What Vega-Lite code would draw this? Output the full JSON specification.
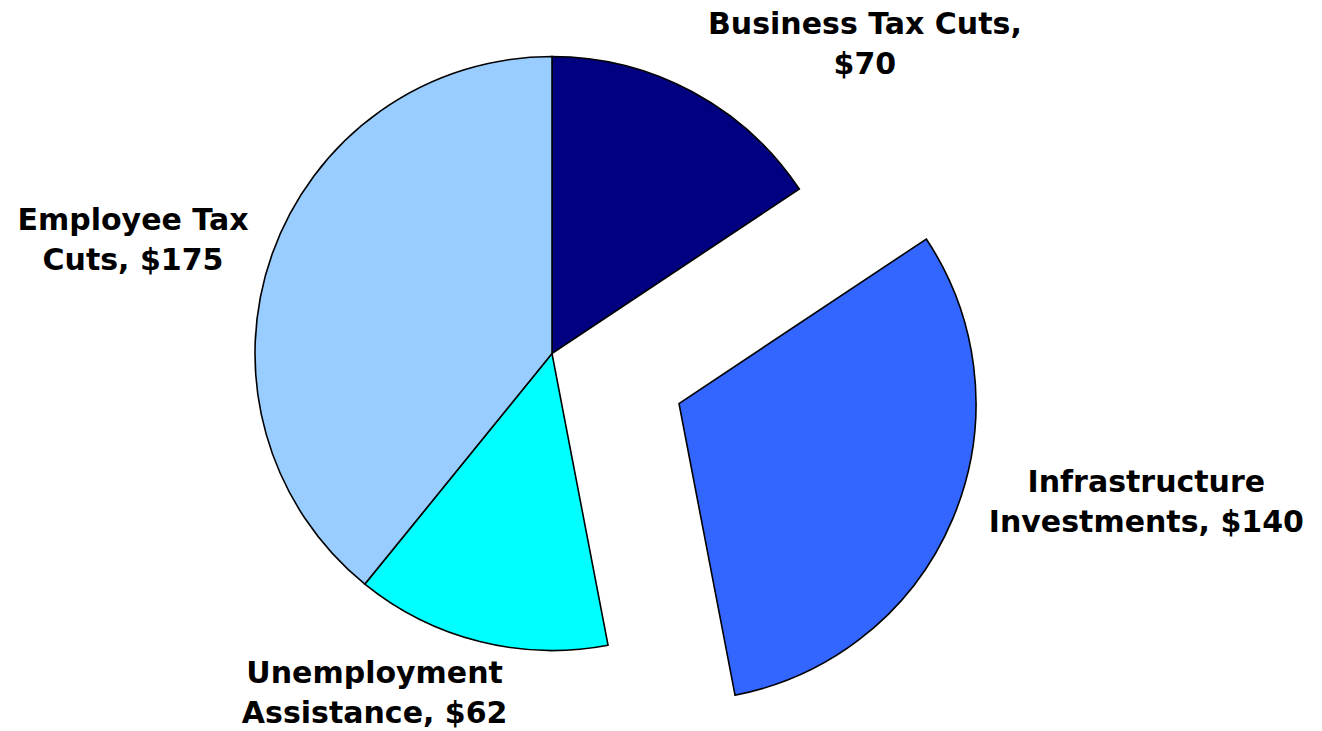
{
  "$schema": "https://vega.github.io/schema/vega-lite/v6.json",
  "width": 1104,
  "height": 707,
  "autosize": "none",
  "padding": {"left": 0, "top": 0, "right": 218, "bottom": 24},
  "background": "white",
  "view": {"stroke": null},
  "data": {
    "values": [
      {"category": "Business Tax Cuts", "label": "Business Tax Cuts,\n$70", "value": 70},
      {"category": "Infrastructure Investments", "label": "Infrastructure\nInvestments, $140", "value": 140},
      {"category": "Unemployment Assistance", "label": "Unemployment\nAssistance, $62", "value": 62},
      {"category": "Employee Tax Cuts", "label": "Employee Tax\nCuts, $175", "value": 175}
    ]
  },
  "transform": [
    {"stack": "value", "groupby": [], "as": ["v0", "v1"]},
    {"calculate": "(datum.v0 + datum.v1) / 2", "as": "mid"}
  ],
  "encoding": {
    "color": {
      "field": "category",
      "type": "nominal",
      "legend": null,
      "scale": {
        "domain": ["Business Tax Cuts", "Infrastructure Investments", "Unemployment Assistance", "Employee Tax Cuts"],
        "range": ["#000080", "#3366FF", "#00FFFF", "#99CCFF"]
      }
    }
  },
  "layer": [
    {
      "transform": [{"filter": "datum.category !== 'Infrastructure Investments'"}],
      "mark": {"type": "arc", "outerRadius": 297, "stroke": "black", "strokeWidth": 1.6, "strokeJoin": "miter"},
      "encoding": {
        "theta": {"field": "v0", "type": "quantitative", "scale": {"domain": [0, 447], "range": [0, 6.283185307179586]}},
        "theta2": {"field": "v1"}
      }
    },
    {
      "transform": [{"filter": "datum.category === 'Infrastructure Investments'"}],
      "mark": {"type": "arc", "outerRadius": 297, "stroke": "black", "strokeWidth": 1.6, "strokeJoin": "miter", "xOffset": 127, "yOffset": 50},
      "encoding": {
        "theta": {"field": "v0", "type": "quantitative"},
        "theta2": {"field": "v1"}
      }
    },
    {
      "transform": [{"filter": "datum.category === 'Business Tax Cuts'"}],
      "mark": {"type": "text", "radius": 330, "dx": 157, "dy": -29, "align": "center", "baseline": "alphabetic", "lineBreak": "\n", "lineHeight": 40, "font": "DejaVu Sans", "fontWeight": "bold", "fontSize": 30},
      "encoding": {
        "theta": {"field": "mid", "type": "quantitative"},
        "text": {"field": "label"},
        "color": {"value": "black"}
      }
    },
    {
      "transform": [{"filter": "datum.category === 'Infrastructure Investments'"}],
      "mark": {"type": "text", "radius": 330, "dx": 290, "dy": 11, "align": "center", "baseline": "alphabetic", "lineBreak": "\n", "lineHeight": 40, "font": "DejaVu Sans", "fontWeight": "bold", "fontSize": 30},
      "encoding": {
        "theta": {"field": "mid", "type": "quantitative"},
        "text": {"field": "label"},
        "color": {"value": "black"}
      }
    },
    {
      "transform": [{"filter": "datum.category === 'Unemployment Assistance'"}],
      "mark": {"type": "text", "radius": 330, "dx": -97, "dy": 9, "align": "center", "baseline": "alphabetic", "lineBreak": "\n", "lineHeight": 40, "font": "DejaVu Sans", "fontWeight": "bold", "fontSize": 30},
      "encoding": {
        "theta": {"field": "mid", "type": "quantitative"},
        "text": {"field": "label"},
        "color": {"value": "black"}
      }
    },
    {
      "transform": [{"filter": "datum.category === 'Employee Tax Cuts'"}],
      "mark": {"type": "text", "radius": 330, "dx": -108, "dy": -13, "align": "center", "baseline": "alphabetic", "lineBreak": "\n", "lineHeight": 40, "font": "DejaVu Sans", "fontWeight": "bold", "fontSize": 30},
      "encoding": {
        "theta": {"field": "mid", "type": "quantitative"},
        "text": {"field": "label"},
        "color": {"value": "black"}
      }
    }
  ]
}
